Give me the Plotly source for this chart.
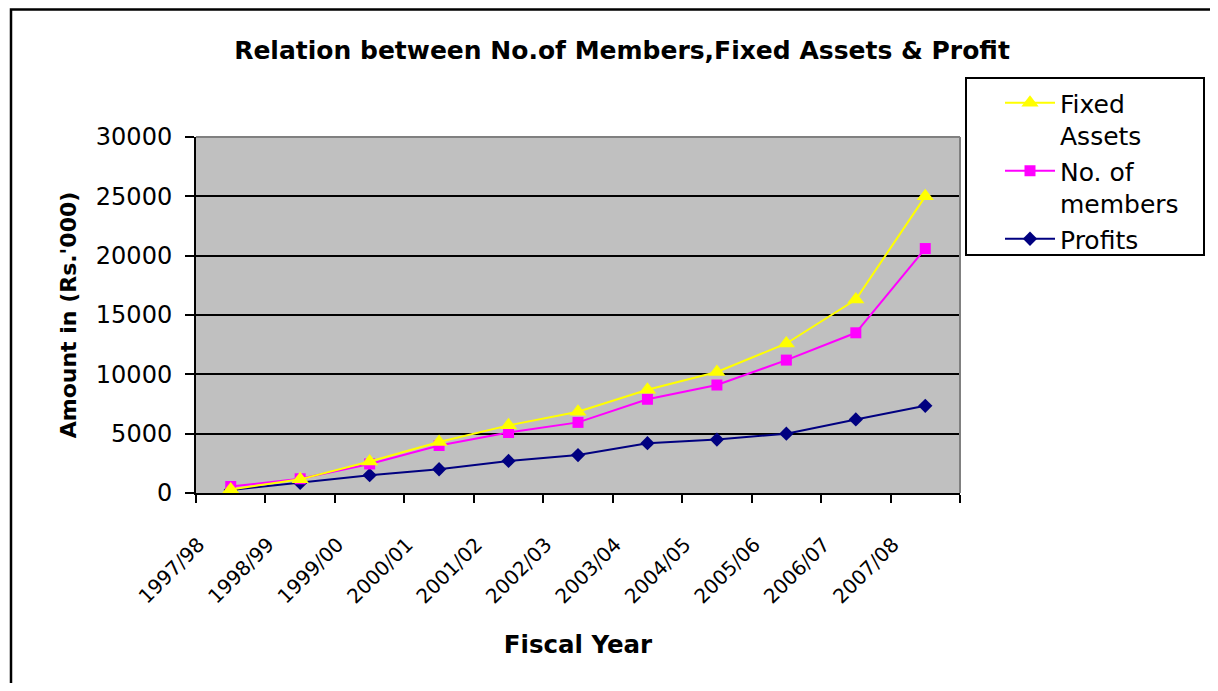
import plotly.graph_objects as go

categories = ["1997/98", "1998/99", "1999/00", "2000/01", "2001/02", "2002/03",
              "2003/04", "2004/05", "2005/06", "2006/07", "2007/08"]
fixed_assets = [300, 1150, 2650, 4300, 5700, 6850, 8700, 10200, 12600, 16300, 25000]
members = [550, 1200, 2450, 4000, 5100, 5950, 7900, 9100, 11200, 13500, 20600]
profits = [250, 850, 1500, 2000, 2700, 3200, 4200, 4500, 5000, 6200, 7350]
y_ticks = [0, 5000, 10000, 15000, 20000, 25000, 30000]

FONT = "DejaVu Sans"

# page is rendered with an 8px body margin; plot area lands at page x 196..960, y 137..493
W, H = 1202, 675
L, T = 188, 129
PW, PH = 764, 356


def px(x):
    return (x - 196) / PW


def py(y):
    return (493 - y) / PH


fig = go.Figure()
fig.add_trace(go.Scatter(x=categories, y=profits, name="Profits", mode="lines+markers",
                         line=dict(color="#000080", width=2),
                         marker=dict(symbol="diamond", size=11, color="#000080")))
fig.add_trace(go.Scatter(x=categories, y=members, name="No. of<br>members", mode="lines+markers",
                         line=dict(color="#FF00FF", width=2),
                         marker=dict(symbol="square", size=11, color="#FF00FF")))
fig.add_trace(go.Scatter(x=categories, y=fixed_assets, name="Fixed<br>Assets", mode="lines+markers",
                         line=dict(color="#FFFF00", width=2),
                         marker=dict(symbol="triangle-up", size=15, color="#FFFF00")))

fig.update_layout(
    width=W, height=H,
    margin=dict(l=L, r=W - L - PW, t=T, b=H - T - PH),
    paper_bgcolor="white",
    plot_bgcolor="#C0C0C0",
    font=dict(family=FONT, color="black"),
    title=dict(text="<b>Relation between No.of Members,Fixed Assets & Profit</b>",
               font=dict(family=FONT, size=25, color="black"),
               xref="container", yref="container", x=(622 - 8) / W, y=1 - (50 - 8) / H,
               xanchor="center", yanchor="middle"),
    showlegend=True,
    legend=dict(x=px(1000), y=py(80), xanchor="left", yanchor="top",
                traceorder="reversed", valign="top",
                bgcolor="rgba(0,0,0,0)", borderwidth=0,
                font=dict(family=FONT, size=25, color="black"),
                itemwidth=50),
    xaxis=dict(type="category", range=[-0.5, 10.5],
               tickson="boundaries", ticks="outside", ticklen=8, tickwidth=2, tickcolor="black",
               showline=True, linecolor="black", linewidth=2,
               showgrid=False, tickangle=-45,
               tickfont=dict(family=FONT, size=20, color="black"),
               ticklabelshift=-32, ticklabelstandoff=30,
               title=dict(text="<b>Fiscal Year</b>", font=dict(family=FONT, size=24.5, color="black"),
                          standoff=28)),
    yaxis=dict(range=[0, 30000], tickvals=y_ticks, ticktext=[str(v) for v in y_ticks],
               ticks="outside", ticklen=9, tickwidth=2, tickcolor="black",
               showline=True, linecolor="black", linewidth=2,
               showgrid=True, gridcolor="black", gridwidth=2, zeroline=False,
               tickfont=dict(family=FONT, size=24, color="black"),
               ticklabelstandoff=8,
               title=dict(text="<b>Amount in (Rs.'000)</b>", font=dict(family=FONT, size=22, color="black"),
                          standoff=13)),
)

# gray border of plot area (top/right)
fig.add_shape(type="line", xref="paper", yref="paper", x0=0, x1=1, y0=1, y1=1,
              line=dict(color="#808080", width=2), layer="above")
fig.add_shape(type="line", xref="paper", yref="paper", x0=1, x1=1, y0=0, y1=1,
              line=dict(color="#808080", width=2), layer="above")
# legend box
fig.add_shape(type="rect", xref="paper", yref="paper",
              x0=px(966), x1=px(1204), y0=py(255), y1=py(78),
              line=dict(color="black", width=2), fillcolor="white", layer="below")
# chart frame (left and top visible)
fig.add_shape(type="rect", xref="paper", yref="paper",
              x0=px(11), x1=2.0, y0=-2.0, y1=py(9.5),
              line=dict(color="black", width=2.5), fillcolor="rgba(0,0,0,0)", layer="above")

fig.write_html("out.html")
